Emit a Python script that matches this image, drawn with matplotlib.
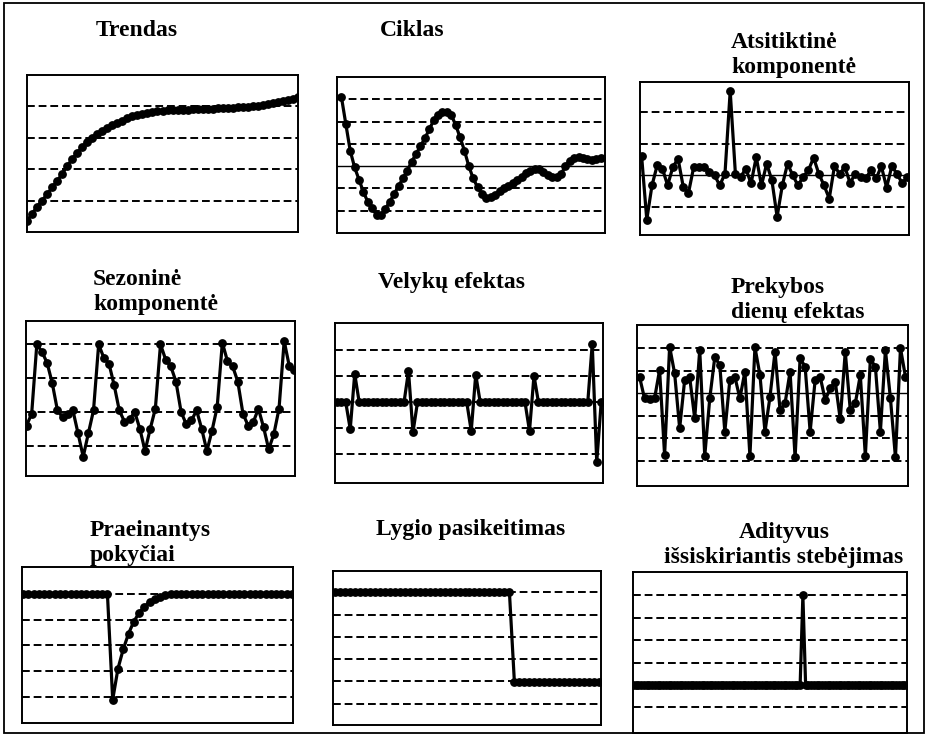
import numpy as np
import matplotlib
matplotlib.use("Agg")
import matplotlib.pyplot as plt
from matplotlib.patches import Rectangle

# values (one list per panel)
trend_values = [0.35, 0.58, 0.8, 1.0, 1.2, 1.42, 1.62, 1.85, 2.1, 2.32,
                2.52, 2.7, 2.87, 3.0, 3.12, 3.22, 3.31, 3.4, 3.48, 3.55,
                3.62, 3.68, 3.73, 3.77, 3.8, 3.83, 3.85, 3.86, 3.87, 3.88,
                3.89, 3.9, 3.9, 3.91, 3.91, 3.92, 3.92, 3.93, 3.94, 3.94,
                3.95, 3.96, 3.97, 3.98, 3.99, 4.0, 4.02, 4.04, 4.07, 4.1,
                4.13, 4.17, 4.21, 4.25, 4.29]

cycle_values = [6.11, 4.9, 3.7, 2.95, 2.4, 1.85, 1.4, 1.1, 0.82, 0.8,
                1.08, 1.4, 1.75, 2.1, 2.45, 2.8, 3.2, 3.55, 3.9, 4.25,
                4.65, 5.05, 5.3, 5.43, 5.42, 5.3, 4.85, 4.3, 3.7, 3.0,
                2.45, 2.05, 1.75, 1.58, 1.6, 1.72, 1.88, 2.02, 2.12, 2.25,
                2.38, 2.52, 2.68, 2.8, 2.88, 2.88, 2.75, 2.62, 2.52, 2.5,
                2.65, 3.0, 3.25, 3.37, 3.4, 3.36, 3.3, 3.27, 3.3, 3.35]

irregular_values = [2.63, 0.59, 1.68, 2.32, 2.21, 1.68, 2.26, 2.53, 1.63, 1.44,
                    2.26, 2.26, 2.26, 2.1, 2.0, 1.68, 2.05, 4.68, 2.05, 1.95,
                    2.21, 1.74, 2.58, 1.68, 2.37, 1.84, 0.68, 1.68, 2.37, 2.0,
                    1.68, 1.95, 2.16, 2.56, 2.05, 1.68, 1.26, 2.29, 2.05, 2.26,
                    1.76, 2.05, 1.95, 1.9, 2.16, 1.9, 2.29, 1.61, 2.29, 2.05,
                    1.74, 1.95]

seasonal_values = [1.6, 1.95,
                   4.0, 3.78, 3.45, 2.85, 2.05, 1.85, 1.95, 2.05, 1.37, 0.68, 1.37, 2.05,
                   4.0, 3.6, 3.43, 2.8, 2.05, 1.72, 1.78, 2.0, 1.5, 0.85, 1.5, 2.1,
                   4.0, 3.55, 3.35, 2.9, 2.0, 1.64, 1.75, 2.05, 1.5, 0.85, 1.45, 2.15,
                   4.05, 3.5, 3.35, 2.9, 1.95, 1.6, 1.7, 2.1, 1.55, 0.9, 1.35, 2.1,
                   4.1, 3.35, 3.25]

easter_values = [0, 0, 0, -1.03, 1.1, 0, 0, 0, 0, 0,
                 0, 0, 0, 0, 0, 0, 1.2, -1.15, 0, 0,
                 0, 0, 0, 0, 0, 0, 0, 0, 0, 0,
                 -1.1, 1.07, 0, 0, 0, 0, 0, 0, 0, 0,
                 0, 0, 0, -1.1, 1.03, 0, 0, 0, 0, 0,
                 0, 0, 0, 0, 0, 0, 0, 2.25, -2.3, 0]

trading_day_values = [4.73, 3.77, 3.73, 3.77, 5.03, 1.25, 6.07, 4.88, 2.44, 4.59,
                      4.71, 2.88, 5.92, 1.21, 3.77, 5.6, 5.25, 2.29, 4.59, 4.73,
                      3.77, 4.96, 1.21, 6.04, 4.81, 2.29, 3.84, 5.84, 3.25, 3.55,
                      4.96, 1.15, 5.55, 5.18, 2.29, 4.59, 4.73, 3.7, 4.22, 4.51,
                      2.84, 5.84, 3.25, 3.55, 4.81, 1.21, 5.51, 5.18, 2.29, 5.92,
                      3.77, 1.15, 6.0, 4.73]

transitory_values = [5.0, 5.0, 5.0, 5.0, 5.0, 5.0, 5.0, 5.0, 5.0, 5.0,
                     5.0, 5.0, 5.0, 5.0, 5.0, 5.0, 5.0, 0.9, 2.1, 2.85,
                     3.45, 3.92, 4.25, 4.5, 4.67, 4.8, 4.88, 4.94, 4.97, 4.99,
                     5.0, 5.0, 5.0, 5.0, 5.0, 5.0, 5.0, 5.0, 5.0, 5.0,
                     5.0, 5.0, 5.0, 5.0, 5.0, 5.0, 5.0, 5.0, 5.0, 5.0,
                     4.98, 4.98]

level_shift_values = [6.0, 6.0, 6.0, 6.0, 6.0, 6.0, 6.0, 6.0, 6.0, 6.0,
                      6.0, 6.0, 6.0, 6.0, 6.0, 6.0, 6.0, 6.0, 6.0, 6.0,
                      6.0, 6.0, 6.0, 6.0, 6.0, 6.0, 6.0, 6.0, 6.0, 6.0,
                      6.0, 6.0, 6.0, 6.0, 6.0, 6.0, 1.96, 1.96, 1.96, 1.96,
                      1.96, 1.96, 1.96, 1.96, 1.96, 1.96, 1.96, 1.96, 1.96, 1.96,
                      1.96, 1.96, 1.96, 1.96]

outlier_values = [2.0, 2.0, 2.0, 2.0, 2.0, 2.0, 2.0, 2.0, 2.0, 2.0,
                  2.0, 2.0, 2.0, 2.0, 2.0, 2.0, 2.0, 2.0, 2.0, 2.0,
                  2.0, 2.0, 2.0, 2.0, 2.0, 2.0, 2.0, 2.0, 2.0, 2.0,
                  2.0, 2.0, 2.0, 2.0, 2.0, 2.0, 2.0, 2.0, 2.0, 2.0,
                  2.0, 2.0, 2.0, 2.0, 2.0, 2.0, 2.0, 2.0, 2.0, 2.0,
                  2.0, 2.0, 2.0, 2.0, 2.0, 2.0, 2.0, 2.0, 2.0, 2.0,
                  2.0, 2.0, 6.0, 2.0, 2.0, 2.0, 2.0, 2.0, 2.0, 2.0,
                  2.0, 2.0, 2.0, 2.0, 2.0, 2.0, 2.0, 2.0, 2.0, 2.0,
                  2.0, 2.0, 2.0, 2.0, 2.0, 2.0, 2.0, 2.0, 2.0, 2.0,
                  2.0, 2.0, 2.0, 2.0, 2.0, 2.0, 2.0, 2.0, 2.0, 2.0,
                  2.0]

# titles: (text lines, x, first baseline, alignment)
titles = [
    (["Trendas"], 137, 36, "center"),
    (["Ciklas"], 412, 36, "center"),
    (["Atsitiktinė", "komponentė"], 731, 48, "left"),
    (["Sezoninė", "komponentė"], 93, 285, "left"),
    (["Velykų efektas"], 378, 288, "left"),
    (["Prekybos", "dienų efektas"], 731, 293, "left"),
    (["Praeinantys", "pokyčiai"], 90, 536, "left"),
    (["Lygio pasikeitimas"], 376, 535, "left"),
    (["Adityvus", "išsiskiriantis stebėjimas"], 784, 538, "center"),
]

W, H = 931, 736
fig = plt.figure(figsize=(W / 100, H / 100), dpi=100)
fig.patch.set_facecolor("white")


def px_rect(x0, y0, x1, y1):
    return [x0 / W, 1 - y1 / H, (x1 - x0) / W, (y1 - y0) / H]


def panel(box, values, ylim, dashed, solid=(), pad=0.0):
    ax = fig.add_axes(px_rect(*box))
    x = np.arange(len(values))
    for lvl in dashed:
        ax.axhline(lvl, color="black", lw=1.4, ls=(0, (4, 2)), zorder=1)
    for lvl in solid:
        ax.axhline(lvl, color="black", lw=1.0, zorder=1)
    ax.plot(x, values, color="black", lw=2.3, marker="o", ms=5.3, zorder=3)
    ax.set_xlim(-pad, len(values) - 1 + pad)
    ax.set_ylim(*ylim)
    ax.set_xticks([])
    ax.set_yticks([])
    for s in ax.spines.values():
        s.set_linewidth(1.4)
    return ax


panel((27, 75, 298, 232), trend_values, (0, 5), [1, 2, 3, 4])
panel((337, 77, 605, 233), cycle_values, (0, 7), [1, 2, 4, 5, 6], solid=[3], pad=1.0)
panel((640, 82, 909, 235), irregular_values, (0.1, 4.97), [1, 3, 4], solid=[2], pad=0.3)
panel((26, 321, 295, 476), seasonal_values, (0.11, 4.69), [1, 2, 3, 4], pad=0.1)
panel((335, 323, 603, 483), easter_values, (-3.1, 3.05), [-2, -1, 0, 1, 2], pad=0.4)
panel((637, 325, 908, 486), trading_day_values, (-0.12, 7.03), [1, 2, 3, 5, 6], solid=[4], pad=0.5)
panel((22, 567, 293, 723), transitory_values, (0, 6.03), [1, 2, 3, 4, 5], pad=0.2)
panel((333, 571, 601, 725), level_shift_values, (0.05, 6.95), [1, 2, 3, 4, 5, 6], pad=0.35)
panel((633, 572, 907, 733), outlier_values, (-0.15, 7.05), [1, 2, 3, 4, 5, 6])

# title text, bold serif like the scan
for lines, x, y, ha in titles:
    for k, line in enumerate(lines):
        fig.text(x / W, 1 - (y + k * 25) / H, line, ha=ha, va="baseline",
                 fontsize=17, fontweight="bold",
                 family=["Liberation Serif", "DejaVu Serif"])

# frame around the whole figure
fig.add_artist(Rectangle((4 / W, 3 / H), 920 / W, 730 / H, transform=fig.transFigure,
                         fill=False, lw=1.3, edgecolor="black"))

fig.savefig("out.png", dpi=100)
